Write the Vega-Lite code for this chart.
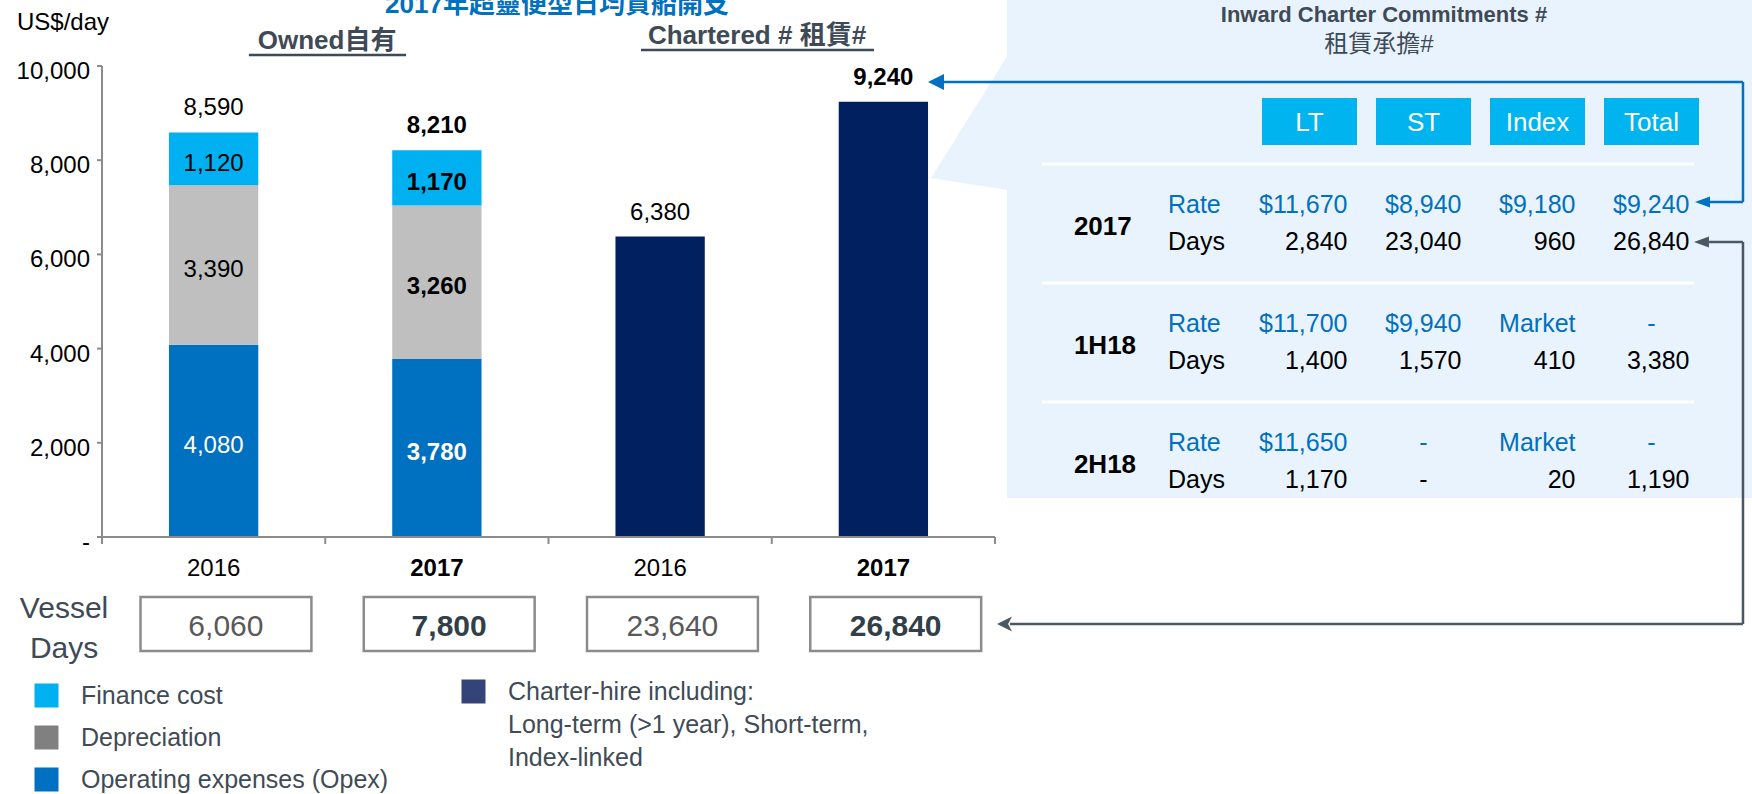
{
"$schema":"https://vega.github.io/schema/vega-lite/v6.json",
"width":893,"height":471,"autosize":{"type":"none"},"padding":{"left":102,"top":66,"right":757,"bottom":257},"background":"#ffffff",
"config":{"view":{"stroke":null},"font":"Liberation Sans, Noto Sans CJK TC, sans-serif","text":{"font":"Liberation Sans, Noto Sans CJK TC, sans-serif"},"legend":{"labelFont":"Liberation Sans, Noto Sans CJK TC, sans-serif"}},
"datasets":{
"bars":[
{"bar":"Owned 2016","component":"Operating expenses (Opex)","value":4080},
{"bar":"Owned 2016","component":"Depreciation","value":3390},
{"bar":"Owned 2016","component":"Finance cost","value":1120},
{"bar":"Owned 2017","component":"Operating expenses (Opex)","value":3780},
{"bar":"Owned 2017","component":"Depreciation","value":3260},
{"bar":"Owned 2017","component":"Finance cost","value":1170},
{"bar":"Chartered 2016","component":"Charter-hire","value":6380},
{"bar":"Chartered 2017","component":"Charter-hire","value":9240}],
"days":[{"bar":"Owned 2016","year":"2016","days":6060},{"bar":"Owned 2017","year":"2017","days":7800},{"bar":"Chartered 2016","year":"2016","days":23640},{"bar":"Chartered 2017","year":"2017","days":26840}],
"yticks":[{"tick":0,"label":"-"},{"tick":2000,"label":"2,000"},{"tick":4000,"label":"4,000"},{"tick":6000,"label":"6,000"},{"tick":8000,"label":"8,000"},{"tick":10000,"label":"10,000"}],
"table":[
{"period":"2017","metric":"Rate","col":"LT","text":"$11,670"},
{"period":"2017","metric":"Rate","col":"ST","text":"$8,940"},
{"period":"2017","metric":"Rate","col":"Index","text":"$9,180"},
{"period":"2017","metric":"Rate","col":"Total","text":"$9,240"},
{"period":"2017","metric":"Days","col":"LT","text":"2,840"},
{"period":"2017","metric":"Days","col":"ST","text":"23,040"},
{"period":"2017","metric":"Days","col":"Index","text":"960"},
{"period":"2017","metric":"Days","col":"Total","text":"26,840"},
{"period":"1H18","metric":"Rate","col":"LT","text":"$11,700"},
{"period":"1H18","metric":"Rate","col":"ST","text":"$9,940"},
{"period":"1H18","metric":"Rate","col":"Index","text":"Market"},
{"period":"1H18","metric":"Rate","col":"Total","text":"-"},
{"period":"1H18","metric":"Days","col":"LT","text":"1,400"},
{"period":"1H18","metric":"Days","col":"ST","text":"1,570"},
{"period":"1H18","metric":"Days","col":"Index","text":"410"},
{"period":"1H18","metric":"Days","col":"Total","text":"3,380"},
{"period":"2H18","metric":"Rate","col":"LT","text":"$11,650"},
{"period":"2H18","metric":"Rate","col":"ST","text":"-"},
{"period":"2H18","metric":"Rate","col":"Index","text":"Market"},
{"period":"2H18","metric":"Rate","col":"Total","text":"-"},
{"period":"2H18","metric":"Days","col":"LT","text":"1,170"},
{"period":"2H18","metric":"Days","col":"ST","text":"-"},
{"period":"2H18","metric":"Days","col":"Index","text":"20"},
{"period":"2H18","metric":"Days","col":"Total","text":"1,190"}]
},
"resolve":{"scale":{"x":"independent","y":"independent"}},
"layer":[
{
"resolve":{"scale":{"y":"independent"}},
"layer":[
{
"resolve":{"scale":{"fill":"independent"}},
"layer":[
{"data":{"name":"bars"},"transform":[{"filter":"indexof(datum.bar, 'Owned') === 0"}],
"mark":{"type":"bar","width":{"band":0.4}},
"encoding":{
"x":{"field":"bar","type":"nominal","scale":{"type":"band","domain":["Owned 2016","Owned 2017","Chartered 2016","Chartered 2017"],"paddingInner":0,"paddingOuter":0},"axis":null},
"y":{"field":"value","type":"quantitative","stack":"zero","scale":{"domain":[0,10000],"nice":false,"zero":true},"axis":null},
"color":{"field":"component","type":"nominal","scale":{"domain":["Finance cost","Depreciation","Operating expenses (Opex)"],"range":["#00b0f0","#bfbfbf","#0070c0"]},"legend":null},
"order":{"field":"value","sort":"descending"}}},
{"data":{"name":"bars"},"transform":[{"filter":"indexof(datum.bar, 'Chartered') === 0"}],
"mark":{"type":"bar","width":{"band":0.4},"color":"#002060"},
"encoding":{
"x":{"field":"bar","type":"nominal","scale":{"type":"band","domain":["Owned 2016","Owned 2017","Chartered 2016","Chartered 2017"],"paddingInner":0,"paddingOuter":0},"axis":null},
"y":{"field":"value","type":"quantitative","scale":{"domain":[0,10000],"nice":false,"zero":true},"axis":null}}},
{"data":{"name":"bars"},"transform":[{"filter":"indexof(datum.bar, 'Owned') === 0"}],
"mark":{"type":"square","opacity":0,"size":1},
"encoding":{
"x":{"field":"bar","type":"nominal","scale":{"type":"band","domain":["Owned 2016","Owned 2017","Chartered 2016","Chartered 2017"],"paddingInner":0,"paddingOuter":0},"axis":null},
"y":{"field":"value","type":"quantitative","stack":null,"scale":{"domain":[0,10000],"nice":false,"zero":true},"axis":null},
"fill":{"field":"component","type":"nominal","scale":{"domain":["Finance cost","Depreciation","Operating expenses (Opex)"],"range":["#00b0f0","#808080","#0070c0"]},
"legend":{"title":null,"orient":"none","legendX":-68,"legendY":617,"direction":"vertical","symbolType":"square","symbolSize":576,"symbolStrokeWidth":0,"symbolOpacity":1,"labelFontSize":25,"labelColor":"#404b56","labelOffset":22,"rowPadding":16,"padding":0,"labelLimit":500}}}},
{"data":{"name":"bars"},"transform":[{"filter":"indexof(datum.bar, 'Chartered') === 0"}],
"mark":{"type":"square","opacity":0,"size":1},
"encoding":{
"x":{"field":"bar","type":"nominal","scale":{"type":"band","domain":["Owned 2016","Owned 2017","Chartered 2016","Chartered 2017"],"paddingInner":0,"paddingOuter":0},"axis":null},
"y":{"field":"value","type":"quantitative","stack":null,"scale":{"domain":[0,10000],"nice":false,"zero":true},"axis":null},
"fill":{"field":"component","type":"nominal","scale":{"domain":["Charter-hire"],"range":["#344479"]},
"legend":{"title":null,"orient":"none","legendX":359,"legendY":613,"symbolType":"square","symbolSize":576,"symbolStrokeWidth":0,"symbolOpacity":1,"labelFontSize":25,"labelColor":"#404b56","labelOffset":22,"padding":0,"labelLimit":600,
"labelExpr":"['Charter-hire including:', 'Long-term (>1 year), Short-term,', 'Index-linked']",
"encode":{"labels":{"update":{"lineHeight":{"value":33}}}}}}}},
{"data":{"name":"bars"},"transform":[{"filter":"datum.bar === 'Owned 2016'"},{"stack":"value","groupby":["bar"],"sort":[{"field":"value","order":"descending"}],"as":["lo","hi"]},{"fold":["lo","hi"],"as":["end","pos"]}],
"mark":{"type":"text","fontSize":24,"dy":5},
"encoding":{
"x":{"field":"bar","type":"nominal","scale":{"type":"band","domain":["Owned 2016","Owned 2017","Chartered 2016","Chartered 2017"],"paddingInner":0,"paddingOuter":0},"axis":null},
"y":{"aggregate":"mean","field":"pos","type":"quantitative","stack":null,"scale":{"domain":[0,10000],"nice":false,"zero":true},"axis":null},
"detail":{"field":"component","type":"nominal"},
"text":{"field":"value","type":"quantitative","format":","},
"color":{"condition":{"test":"datum.component === 'Operating expenses (Opex)'","value":"#ffffff"},"value":"#000000"}}},
{"data":{"name":"bars"},"transform":[{"filter":"datum.bar === 'Owned 2017'"},{"stack":"value","groupby":["bar"],"sort":[{"field":"value","order":"descending"}],"as":["lo","hi"]},{"fold":["lo","hi"],"as":["end","pos"]}],
"mark":{"type":"text","fontSize":24,"fontWeight":"bold","dy":5},
"encoding":{
"x":{"field":"bar","type":"nominal","scale":{"type":"band","domain":["Owned 2016","Owned 2017","Chartered 2016","Chartered 2017"],"paddingInner":0,"paddingOuter":0},"axis":null},
"y":{"aggregate":"mean","field":"pos","type":"quantitative","stack":null,"scale":{"domain":[0,10000],"nice":false,"zero":true},"axis":null},
"detail":{"field":"component","type":"nominal"},
"text":{"field":"value","type":"quantitative","format":","},
"color":{"condition":{"test":"datum.component === 'Operating expenses (Opex)'","value":"#ffffff"},"value":"#000000"}}},
{"data":{"name":"bars"},"transform":[{"filter":"indexof(datum.bar, '2016') >= 0"}],
"mark":{"type":"text","fontSize":24,"dy":-24,"color":"#000000"},
"encoding":{
"x":{"field":"bar","type":"nominal","scale":{"type":"band","domain":["Owned 2016","Owned 2017","Chartered 2016","Chartered 2017"],"paddingInner":0,"paddingOuter":0},"axis":null},
"y":{"aggregate":"sum","field":"value","type":"quantitative","stack":null,"scale":{"domain":[0,10000],"nice":false,"zero":true},"axis":null},
"text":{"aggregate":"sum","field":"value","type":"quantitative","format":","}}},
{"data":{"name":"bars"},"transform":[{"filter":"indexof(datum.bar, '2017') >= 0"}],
"mark":{"type":"text","fontSize":24,"fontWeight":"bold","dy":-24,"color":"#000000"},
"encoding":{
"x":{"field":"bar","type":"nominal","scale":{"type":"band","domain":["Owned 2016","Owned 2017","Chartered 2016","Chartered 2017"],"paddingInner":0,"paddingOuter":0},"axis":null},
"y":{"aggregate":"sum","field":"value","type":"quantitative","stack":null,"scale":{"domain":[0,10000],"nice":false,"zero":true},"axis":null},
"text":{"aggregate":"sum","field":"value","type":"quantitative","format":","}}},
{"data":{"values":[{"note":"y axis line"}]},
"mark":{"type":"rule","color":"#8c8c8c","strokeWidth":2},
"encoding":{
"x":{"datum":"Owned 2016","type":"nominal","bandPosition":0,"scale":{"type":"band","domain":["Owned 2016","Owned 2017","Chartered 2016","Chartered 2017"],"paddingInner":0,"paddingOuter":0},"axis":null},
"y":{"datum":0,"type":"quantitative","scale":{"domain":[0,10000],"nice":false,"zero":true},"axis":null},
"y2":{"datum":10000}}},
{"data":{"name":"yticks"},
"mark":{"type":"rule","color":"#8c8c8c","strokeWidth":2},
"encoding":{
"x":{"datum":"Owned 2016","type":"nominal","bandPosition":-0.0224,"scale":{"type":"band","domain":["Owned 2016","Owned 2017","Chartered 2016","Chartered 2017"],"paddingInner":0,"paddingOuter":0},"axis":null},
"x2":{"datum":"Owned 2016","bandPosition":0},
"y":{"field":"tick","type":"quantitative","scale":{"domain":[0,10000],"nice":false,"zero":true},"axis":null}}},
{"data":{"name":"yticks"},
"mark":{"type":"text","fontSize":24,"align":"right","color":"#000000","dy":6},
"encoding":{
"x":{"datum":"Owned 2016","type":"nominal","bandPosition":-0.0537,"scale":{"type":"band","domain":["Owned 2016","Owned 2017","Chartered 2016","Chartered 2017"],"paddingInner":0,"paddingOuter":0},"axis":null},
"y":{"field":"tick","type":"quantitative","scale":{"domain":[0,10000],"nice":false,"zero":true},"axis":null},
"text":{"field":"label","type":"nominal"}}},
{"data":{"values":[{"note":"x axis line"}]},
"mark":{"type":"rule","color":"#8c8c8c","strokeWidth":2},
"encoding":{
"x":{"datum":"Owned 2016","type":"nominal","bandPosition":0,"scale":{"type":"band","domain":["Owned 2016","Owned 2017","Chartered 2016","Chartered 2017"],"paddingInner":0,"paddingOuter":0},"axis":null},
"x2":{"datum":"Chartered 2017","bandPosition":1},
"y":{"datum":0,"type":"quantitative","scale":{"domain":[0,10000],"nice":false,"zero":true},"axis":null}}},
{"data":{"name":"days"},
"mark":{"type":"rule","color":"#8c8c8c","strokeWidth":2},
"encoding":{
"x":{"field":"bar","type":"nominal","bandPosition":0,"scale":{"type":"band","domain":["Owned 2016","Owned 2017","Chartered 2016","Chartered 2017"],"paddingInner":0,"paddingOuter":0},"axis":null},
"y":{"datum":0,"type":"quantitative","scale":{"domain":[0,10000],"nice":false,"zero":true},"axis":null},
"y2":{"datum":-149}}},
{"data":{"values":[{"note":"last x tick"}]},
"mark":{"type":"rule","color":"#8c8c8c","strokeWidth":2},
"encoding":{
"x":{"datum":"Chartered 2017","type":"nominal","bandPosition":1,"scale":{"type":"band","domain":["Owned 2016","Owned 2017","Chartered 2016","Chartered 2017"],"paddingInner":0,"paddingOuter":0},"axis":null},
"y":{"datum":0,"type":"quantitative","scale":{"domain":[0,10000],"nice":false,"zero":true},"axis":null},
"y2":{"datum":-149}}},
{"data":{"name":"days"},"transform":[{"filter":"datum.year === '2016'"}],
"mark":{"type":"text","fontSize":24,"color":"#000000","dy":32},
"encoding":{
"x":{"field":"bar","type":"nominal","scale":{"type":"band","domain":["Owned 2016","Owned 2017","Chartered 2016","Chartered 2017"],"paddingInner":0,"paddingOuter":0},"axis":null},
"y":{"datum":0,"type":"quantitative","scale":{"domain":[0,10000],"nice":false,"zero":true},"axis":null},
"text":{"field":"year","type":"nominal"}}},
{"data":{"name":"days"},"transform":[{"filter":"datum.year === '2017'"}],
"mark":{"type":"text","fontSize":24,"fontWeight":"bold","color":"#000000","dy":32},
"encoding":{
"x":{"field":"bar","type":"nominal","scale":{"type":"band","domain":["Owned 2016","Owned 2017","Chartered 2016","Chartered 2017"],"paddingInner":0,"paddingOuter":0},"axis":null},
"y":{"datum":0,"type":"quantitative","scale":{"domain":[0,10000],"nice":false,"zero":true},"axis":null},
"text":{"field":"year","type":"nominal"}}}
]},
{
"data":{"name":"days"},
"layer":[
{"mark":{"type":"rect","fill":"#ffffff","stroke":"#8c8c8c","strokeWidth":2.5},
"encoding":{
"x":{"field":"bar","type":"nominal","bandPosition":0.1725,"scale":{"type":"band","domain":["Owned 2016","Owned 2017","Chartered 2016","Chartered 2017"],"paddingInner":0,"paddingOuter":0},"axis":null},
"x2":{"field":"bar","bandPosition":0.938},
"y":{"datum":"Vessel Days","type":"nominal","bandPosition":0,"scale":{"type":"band","domain":["Vessel Days"],"range":[531,585],"paddingInner":0,"paddingOuter":0},"axis":null},
"y2":{"datum":"Vessel Days","bandPosition":1}}},
{"transform":[{"filter":"datum.year === '2016'"}],
"mark":{"type":"text","fontSize":30,"color":"#595959","dy":3},
"encoding":{
"x":{"field":"bar","type":"nominal","bandPosition":0.555,"scale":{"type":"band","domain":["Owned 2016","Owned 2017","Chartered 2016","Chartered 2017"],"paddingInner":0,"paddingOuter":0},"axis":null},
"y":{"datum":"Vessel Days","type":"nominal","scale":{"type":"band","domain":["Vessel Days"],"range":[531,585],"paddingInner":0,"paddingOuter":0},"axis":null},
"text":{"field":"days","type":"quantitative","format":","}}},
{"transform":[{"filter":"datum.year === '2017'"}],
"mark":{"type":"text","fontSize":30,"fontWeight":"bold","color":"#333f48","dy":3},
"encoding":{
"x":{"field":"bar","type":"nominal","bandPosition":0.555,"scale":{"type":"band","domain":["Owned 2016","Owned 2017","Chartered 2016","Chartered 2017"],"paddingInner":0,"paddingOuter":0},"axis":null},
"y":{"datum":"Vessel Days","type":"nominal","scale":{"type":"band","domain":["Vessel Days"],"range":[531,585],"paddingInner":0,"paddingOuter":0},"axis":null},
"text":{"field":"days","type":"quantitative","format":","}}},
{"transform":[{"filter":"datum.bar === 'Owned 2016'"}],
"mark":{"type":"text","text":["Vessel","Days"],"fontSize":30,"lineHeight":40,"color":"#3e4a56","dy":-15},
"encoding":{
"x":{"datum":"Owned 2016","type":"nominal","bandPosition":-0.17,"scale":{"type":"band","domain":["Owned 2016","Owned 2017","Chartered 2016","Chartered 2017"],"paddingInner":0,"paddingOuter":0},"axis":null},
"y":{"datum":"Vessel Days","type":"nominal","scale":{"type":"band","domain":["Vessel Days"],"range":[531,585],"paddingInner":0,"paddingOuter":0},"axis":null}}}
]},
{
"data":{"values":[{"note":"headers"}]},
"layer":[
{"mark":{"type":"text","text":"2017年超靈便型日均貨船開支","fontSize":26,"fontWeight":"bold","color":"#0070c0"},
"encoding":{
"x":{"datum":"Chartered 2016","type":"nominal","bandPosition":0.038,"scale":{"type":"band","domain":["Owned 2016","Owned 2017","Chartered 2016","Chartered 2017"],"paddingInner":0,"paddingOuter":0},"axis":null},
"y":{"datum":"Title","type":"nominal","bandPosition":0.625,"scale":{"type":"band","domain":["Title","Group"],"range":[-86,-6],"paddingInner":0,"paddingOuter":0},"axis":null}}},
{"mark":{"type":"text","text":"US$/day","fontSize":24,"align":"left","color":"#000000"},
"encoding":{
"x":{"datum":"Owned 2016","type":"nominal","bandPosition":-0.381,"scale":{"type":"band","domain":["Owned 2016","Owned 2017","Chartered 2016","Chartered 2017"],"paddingInner":0,"paddingOuter":0},"axis":null},
"y":{"datum":"Group","type":"nominal","bandPosition":0.075,"scale":{"type":"band","domain":["Title","Group"],"range":[-86,-6],"paddingInner":0,"paddingOuter":0},"axis":null}}},
{"mark":{"type":"text","text":"Owned自有","fontSize":26,"fontWeight":"bold","color":"#3e4a56"},
"encoding":{
"x":{"datum":"Owned 2017","type":"nominal","bandPosition":0.008,"scale":{"type":"band","domain":["Owned 2016","Owned 2017","Chartered 2016","Chartered 2017"],"paddingInner":0,"paddingOuter":0},"axis":null},
"y":{"datum":"Group","type":"nominal","bandPosition":0.525,"scale":{"type":"band","domain":["Title","Group"],"range":[-86,-6],"paddingInner":0,"paddingOuter":0},"axis":null}}},
{"mark":{"type":"text","text":"Chartered # 租賃#","fontSize":26,"fontWeight":"bold","color":"#3e4a56"},
"encoding":{
"x":{"datum":"Chartered 2016","type":"nominal","bandPosition":0.934,"scale":{"type":"band","domain":["Owned 2016","Owned 2017","Chartered 2016","Chartered 2017"],"paddingInner":0,"paddingOuter":0},"axis":null},
"y":{"datum":"Group","type":"nominal","bandPosition":0.4,"scale":{"type":"band","domain":["Title","Group"],"range":[-86,-6],"paddingInner":0,"paddingOuter":0},"axis":null}}},
{"mark":{"type":"rule","color":"#3e4a56","strokeWidth":2.5},
"encoding":{
"x":{"datum":"Owned 2016","type":"nominal","bandPosition":0.658,"scale":{"type":"band","domain":["Owned 2016","Owned 2017","Chartered 2016","Chartered 2017"],"paddingInner":0,"paddingOuter":0},"axis":null},
"x2":{"datum":"Owned 2017","bandPosition":0.362},
"y":{"datum":"Group","type":"nominal","bandPosition":0.875,"scale":{"type":"band","domain":["Title","Group"],"range":[-86,-6],"paddingInner":0,"paddingOuter":0},"axis":null}}},
{"mark":{"type":"rule","color":"#3e4a56","strokeWidth":2.5},
"encoding":{
"x":{"datum":"Chartered 2016","type":"nominal","bandPosition":0.414,"scale":{"type":"band","domain":["Owned 2016","Owned 2017","Chartered 2016","Chartered 2017"],"paddingInner":0,"paddingOuter":0},"axis":null},
"x2":{"datum":"Chartered 2017","bandPosition":0.458},
"y":{"datum":"Group","type":"nominal","bandPosition":0.75,"scale":{"type":"band","domain":["Title","Group"],"range":[-86,-6],"paddingInner":0,"paddingOuter":0},"axis":null}}}
]}
]},
{
"data":{"name":"table"},
"layer":[
{"data":{"values":[{"note":"panel"}]},
"mark":{"type":"rect","color":"#e9f3fd"},
"encoding":{
"x":{"datum":"Period","type":"nominal","bandPosition":-0.284,"scale":{"type":"band","domain":["Period","Metric","LT","ST","Index","Total"],"range":[932,1597],"paddingInner":0.1667,"paddingOuter":0},"axis":null},
"x2":{"datum":"Total","bandPosition":1.6},
"y":{"datum":"Header","type":"nominal","bandPosition":-0.4,"scale":{"type":"band","domain":["Header","2017","1H18","2H18"],"range":[-21,455],"paddingInner":0,"paddingOuter":0},"axis":null},
"y2":{"datum":"2H18","bandPosition":0.807}}},
{"data":{"values":[{"note":"pointer"}]},
"mark":{"type":"point","shape":"M1,0L-76,123L1,135Z","size":4,"filled":true,"color":"#e9f3fd","strokeWidth":0,"opacity":1},
"encoding":{
"x":{"datum":"Period","type":"nominal","bandPosition":-0.284,"scale":{"type":"band","domain":["Period","Metric","LT","ST","Index","Total"],"range":[932,1597],"paddingInner":0.1667,"paddingOuter":0},"axis":null},
"y":{"datum":"Header","type":"nominal","bandPosition":0.084,"scale":{"type":"band","domain":["Header","2017","1H18","2H18"],"range":[-21,455],"paddingInner":0,"paddingOuter":0},"axis":null}}},
{"transform":[{"filter":"datum.col === 'LT' && datum.metric === 'Rate'"}],
"mark":{"type":"rule","color":"#ffffff","strokeWidth":3},
"encoding":{
"x":{"datum":"Period","type":"nominal","bandPosition":0.084,"scale":{"type":"band","domain":["Period","Metric","LT","ST","Index","Total"],"range":[932,1597],"paddingInner":0.1667,"paddingOuter":0},"axis":null},
"x2":{"datum":"Total","bandPosition":0.947},
"y":{"field":"period","type":"nominal","bandPosition":0,"scale":{"type":"band","domain":["Header","2017","1H18","2H18"],"range":[-21,455],"paddingInner":0,"paddingOuter":0},"axis":null}}},
{"transform":[{"filter":"datum.period === '2017' && datum.metric === 'Rate'"}],
"mark":{"type":"rect","color":"#00b4f0"},
"encoding":{
"x":{"field":"col","type":"nominal","scale":{"type":"band","domain":["Period","Metric","LT","ST","Index","Total"],"range":[932,1597],"paddingInner":0.1667,"paddingOuter":0},"axis":null},
"y":{"datum":"Header","type":"nominal","bandPosition":0.445,"scale":{"type":"band","domain":["Header","2017","1H18","2H18"],"range":[-21,455],"paddingInner":0,"paddingOuter":0},"axis":null},
"y2":{"datum":"Header","bandPosition":0.84}}},
{"transform":[{"filter":"datum.period === '2017' && datum.metric === 'Rate'"}],
"mark":{"type":"text","fontSize":26,"color":"#ffffff","dy":2},
"encoding":{
"x":{"field":"col","type":"nominal","scale":{"type":"band","domain":["Period","Metric","LT","ST","Index","Total"],"range":[932,1597],"paddingInner":0.1667,"paddingOuter":0},"axis":null},
"y":{"datum":"Header","type":"nominal","bandPosition":0.639,"scale":{"type":"band","domain":["Header","2017","1H18","2H18"],"range":[-21,455],"paddingInner":0,"paddingOuter":0},"axis":null},
"text":{"field":"col","type":"nominal"}}},
{"data":{"values":[{"note":"title"}]},
"mark":{"type":"text","text":"Inward Charter Commitments #","fontSize":22,"fontWeight":"bold","color":"#3e4a56"},
"encoding":{
"x":{"datum":"ST","type":"nominal","bandPosition":0.084,"scale":{"type":"band","domain":["Period","Metric","LT","ST","Index","Total"],"range":[932,1597],"paddingInner":0.1667,"paddingOuter":0},"axis":null},
"y":{"datum":"Header","type":"nominal","bandPosition":-0.252,"scale":{"type":"band","domain":["Header","2017","1H18","2H18"],"range":[-21,455],"paddingInner":0,"paddingOuter":0},"axis":null}}},
{"data":{"values":[{"note":"subtitle"}]},
"mark":{"type":"text","text":"租賃承擔#","fontSize":24,"color":"#3e4a56"},
"encoding":{
"x":{"datum":"ST","type":"nominal","bandPosition":0.03,"scale":{"type":"band","domain":["Period","Metric","LT","ST","Index","Total"],"range":[932,1597],"paddingInner":0.1667,"paddingOuter":0},"axis":null},
"y":{"datum":"Header","type":"nominal","bandPosition":0,"scale":{"type":"band","domain":["Header","2017","1H18","2H18"],"range":[-21,455],"paddingInner":0,"paddingOuter":0},"axis":null}}},
{"transform":[{"filter":"datum.col === 'LT' && datum.metric === 'Rate'"}],
"mark":{"type":"text","fontSize":26,"fontWeight":"bold","align":"left","color":"#000000","dy":3},
"encoding":{
"x":{"datum":"Period","type":"nominal","bandPosition":0.42,"scale":{"type":"band","domain":["Period","Metric","LT","ST","Index","Total"],"range":[932,1597],"paddingInner":0.1667,"paddingOuter":0},"axis":null},
"y":{"field":"period","type":"nominal","scale":{"type":"band","domain":["Header","2017","1H18","2H18"],"range":[-21,455],"paddingInner":0,"paddingOuter":0},"axis":null},
"text":{"field":"period","type":"nominal"}}},
{"transform":[{"filter":"datum.col === 'LT'"}],
"mark":{"type":"text","fontSize":25,"align":"left"},
"encoding":{
"x":{"datum":"Metric","type":"nominal","bandPosition":0.21,"scale":{"type":"band","domain":["Period","Metric","LT","ST","Index","Total"],"range":[932,1597],"paddingInner":0.1667,"paddingOuter":0},"axis":null},
"y":{"field":"period","type":"nominal","scale":{"type":"band","domain":["Header","2017","1H18","2H18"],"range":[-21,455],"paddingInner":0,"paddingOuter":0},"axis":null},
"yOffset":{"field":"metric","type":"nominal","scale":{"type":"point","domain":["Rate","Days"],"range":[41,78],"padding":0}},
"text":{"field":"metric","type":"nominal"},
"color":{"condition":{"test":"datum.metric === 'Rate'","value":"#0070c0"},"value":"#000000"}}},
{"transform":[{"filter":"datum.text !== '-'"}],
"mark":{"type":"text","fontSize":25,"align":"right"},
"encoding":{
"x":{"field":"col","type":"nominal","bandPosition":0.9,"scale":{"type":"band","domain":["Period","Metric","LT","ST","Index","Total"],"range":[932,1597],"paddingInner":0.1667,"paddingOuter":0},"axis":null},
"y":{"field":"period","type":"nominal","scale":{"type":"band","domain":["Header","2017","1H18","2H18"],"range":[-21,455],"paddingInner":0,"paddingOuter":0},"axis":null},
"yOffset":{"field":"metric","type":"nominal","scale":{"type":"point","domain":["Rate","Days"],"range":[41,78],"padding":0}},
"text":{"field":"text","type":"nominal"},
"color":{"condition":{"test":"datum.metric === 'Rate'","value":"#0070c0"},"value":"#000000"}}},
{"transform":[{"filter":"datum.text === '-'"}],
"mark":{"type":"text","fontSize":25,"align":"center"},
"encoding":{
"x":{"field":"col","type":"nominal","bandPosition":0.5,"scale":{"type":"band","domain":["Period","Metric","LT","ST","Index","Total"],"range":[932,1597],"paddingInner":0.1667,"paddingOuter":0},"axis":null},
"y":{"field":"period","type":"nominal","scale":{"type":"band","domain":["Header","2017","1H18","2H18"],"range":[-21,455],"paddingInner":0,"paddingOuter":0},"axis":null},
"yOffset":{"field":"metric","type":"nominal","scale":{"type":"point","domain":["Rate","Days"],"range":[41,78],"padding":0}},
"text":{"field":"text","type":"nominal"},
"color":{"condition":{"test":"datum.metric === 'Rate'","value":"#0070c0"},"value":"#000000"}}},
{"data":{"values":[{"note":"blue connector"}]},
"layer":[
{"mark":{"type":"rule","color":"#0070c0","strokeWidth":2.5},
"encoding":{
"x":{"datum":"Period","type":"nominal","bandPosition":-0.958,"scale":{"type":"band","domain":["Period","Metric","LT","ST","Index","Total"],"range":[932,1597],"paddingInner":0.1667,"paddingOuter":0},"axis":null},
"x2":{"datum":"Total","bandPosition":1.463},
"y":{"datum":"Header","type":"nominal","bandPosition":0.311,"scale":{"type":"band","domain":["Header","2017","1H18","2H18"],"range":[-21,455],"paddingInner":0,"paddingOuter":0},"axis":null}}},
{"mark":{"type":"rule","color":"#0070c0","strokeWidth":2.5},
"encoding":{
"x":{"datum":"Total","type":"nominal","bandPosition":1.463,"scale":{"type":"band","domain":["Period","Metric","LT","ST","Index","Total"],"range":[932,1597],"paddingInner":0.1667,"paddingOuter":0},"axis":null},
"y":{"datum":"Header","type":"nominal","bandPosition":0.311,"scale":{"type":"band","domain":["Header","2017","1H18","2H18"],"range":[-21,455],"paddingInner":0,"paddingOuter":0},"axis":null},
"y2":{"datum":"2017","bandPosition":0.319}}},
{"mark":{"type":"rule","color":"#0070c0","strokeWidth":2.5},
"encoding":{
"x":{"datum":"Total","type":"nominal","bandPosition":1.105,"scale":{"type":"band","domain":["Period","Metric","LT","ST","Index","Total"],"range":[932,1597],"paddingInner":0.1667,"paddingOuter":0},"axis":null},
"x2":{"datum":"Total","bandPosition":1.463},
"y":{"datum":"2017","type":"nominal","bandPosition":0.319,"scale":{"type":"band","domain":["Header","2017","1H18","2H18"],"range":[-21,455],"paddingInner":0,"paddingOuter":0},"axis":null}}},
{"mark":{"type":"point","shape":"M0,0L16,-8L16,8Z","size":4,"filled":true,"color":"#0070c0","strokeWidth":0,"opacity":1},
"encoding":{
"x":{"datum":"Period","type":"nominal","bandPosition":-1.116,"scale":{"type":"band","domain":["Period","Metric","LT","ST","Index","Total"],"range":[932,1597],"paddingInner":0.1667,"paddingOuter":0},"axis":null},
"y":{"datum":"Header","type":"nominal","bandPosition":0.311,"scale":{"type":"band","domain":["Header","2017","1H18","2H18"],"range":[-21,455],"paddingInner":0,"paddingOuter":0},"axis":null}}},
{"mark":{"type":"point","shape":"M0,0L15,-5.5L15,5.5Z","size":4,"filled":true,"color":"#0070c0","strokeWidth":0,"opacity":1},
"encoding":{
"x":{"datum":"Total","type":"nominal","bandPosition":0.958,"scale":{"type":"band","domain":["Period","Metric","LT","ST","Index","Total"],"range":[932,1597],"paddingInner":0.1667,"paddingOuter":0},"axis":null},
"y":{"datum":"2017","type":"nominal","bandPosition":0.319,"scale":{"type":"band","domain":["Header","2017","1H18","2H18"],"range":[-21,455],"paddingInner":0,"paddingOuter":0},"axis":null}}}
]},
{"data":{"values":[{"note":"grey connector"}]},
"layer":[
{"mark":{"type":"rule","color":"#4a5864","strokeWidth":2.5},
"encoding":{
"x":{"datum":"Total","type":"nominal","bandPosition":1.105,"scale":{"type":"band","domain":["Period","Metric","LT","ST","Index","Total"],"range":[932,1597],"paddingInner":0.1667,"paddingOuter":0},"axis":null},
"x2":{"datum":"Total","bandPosition":1.463},
"y":{"datum":"2017","type":"nominal","bandPosition":0.655,"scale":{"type":"band","domain":["Header","2017","1H18","2H18"],"range":[-21,455],"paddingInner":0,"paddingOuter":0},"axis":null}}},
{"mark":{"type":"rule","color":"#4a5864","strokeWidth":2.5},
"encoding":{
"x":{"datum":"Total","type":"nominal","bandPosition":1.463,"scale":{"type":"band","domain":["Period","Metric","LT","ST","Index","Total"],"range":[932,1597],"paddingInner":0.1667,"paddingOuter":0},"axis":null},
"y":{"datum":"2017","type":"nominal","bandPosition":0.655,"scale":{"type":"band","domain":["Header","2017","1H18","2H18"],"range":[-21,455],"paddingInner":0,"paddingOuter":0},"axis":null},
"y2":{"datum":"2H18","bandPosition":1.866}}},
{"mark":{"type":"rule","color":"#4a5864","strokeWidth":2.5},
"encoding":{
"x":{"datum":"Period","type":"nominal","bandPosition":-0.253,"scale":{"type":"band","domain":["Period","Metric","LT","ST","Index","Total"],"range":[932,1597],"paddingInner":0.1667,"paddingOuter":0},"axis":null},
"x2":{"datum":"Total","bandPosition":1.463},
"y":{"datum":"2H18","type":"nominal","bandPosition":1.866,"scale":{"type":"band","domain":["Header","2017","1H18","2H18"],"range":[-21,455],"paddingInner":0,"paddingOuter":0},"axis":null}}},
{"mark":{"type":"point","shape":"M0,0L15,-5.5L15,5.5Z","size":4,"filled":true,"color":"#4a5864","strokeWidth":0,"opacity":1},
"encoding":{
"x":{"datum":"Total","type":"nominal","bandPosition":0.947,"scale":{"type":"band","domain":["Period","Metric","LT","ST","Index","Total"],"range":[932,1597],"paddingInner":0.1667,"paddingOuter":0},"axis":null},
"y":{"datum":"2017","type":"nominal","bandPosition":0.655,"scale":{"type":"band","domain":["Header","2017","1H18","2H18"],"range":[-21,455],"paddingInner":0,"paddingOuter":0},"axis":null}}},
{"mark":{"type":"point","shape":"M0,0L15,-7.5L11,0L15,7.5Z","size":4,"filled":true,"color":"#4a5864","strokeWidth":0,"opacity":1},
"encoding":{
"x":{"datum":"Period","type":"nominal","bandPosition":-0.389,"scale":{"type":"band","domain":["Period","Metric","LT","ST","Index","Total"],"range":[932,1597],"paddingInner":0.1667,"paddingOuter":0},"axis":null},
"y":{"datum":"2H18","type":"nominal","bandPosition":1.866,"scale":{"type":"band","domain":["Header","2017","1H18","2H18"],"range":[-21,455],"paddingInner":0,"paddingOuter":0},"axis":null}}}
]}
]}
]
}
